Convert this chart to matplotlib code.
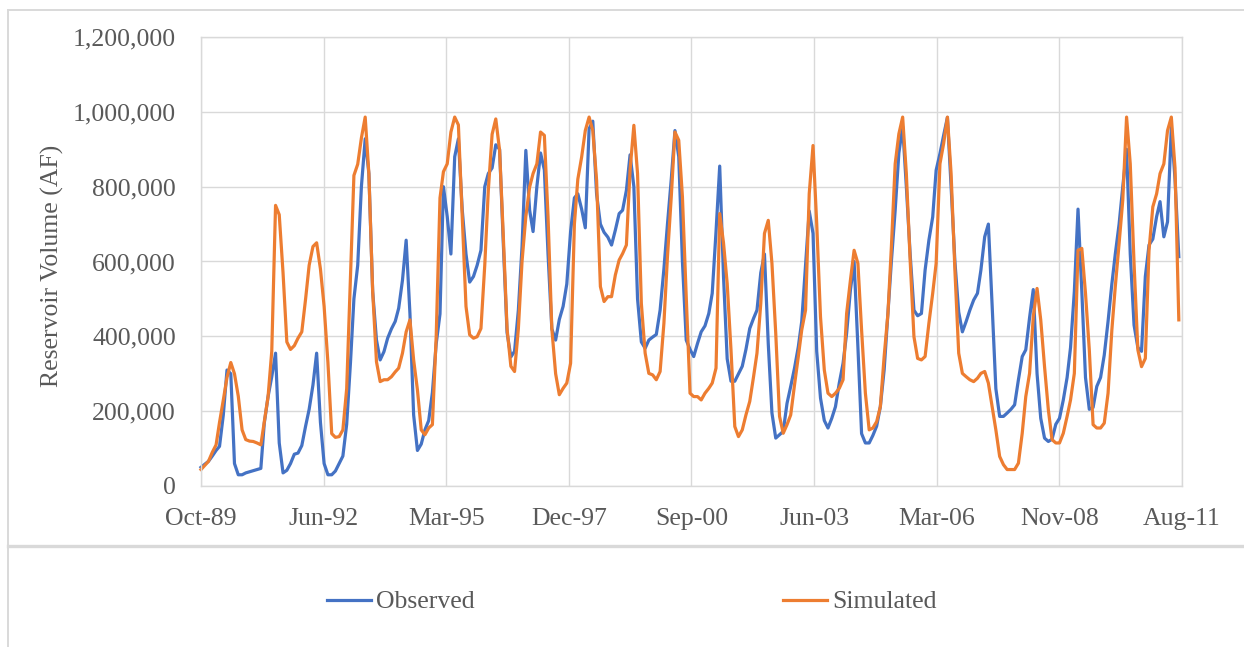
import matplotlib

matplotlib.use("Agg")

import matplotlib.dates as mdates
import matplotlib.pyplot as plt
import numpy as np
import pandas as pd
from matplotlib.lines import Line2D
from matplotlib.ticker import FuncFormatter

# monthly reservoir volume, thousand AF, Oct-1989 .. Aug-2011
observed_kaf = [
    50, 58, 66, 80, 95, 106, 190, 310, 300, 60,
    30, 30, 35, 38, 41, 44, 47, 168, 239, 292,
    355, 115, 35, 42, 60, 85, 88, 108, 160, 205,
    270, 355, 170, 60, 30, 30, 40, 60, 80, 165,
    330, 500, 590, 800, 928, 835, 520, 390, 337, 359,
    395, 420, 440, 475, 550, 657, 460, 190, 95, 112,
    150, 175, 250, 380, 460, 800, 720, 620, 880, 928,
    740, 620, 545, 560, 590, 630, 800, 835, 850, 912,
    900, 650, 410, 345, 360, 470, 640, 897, 737, 680,
    800, 890, 845, 620, 420, 390, 445, 480, 540, 680,
    770, 781, 740, 690, 955, 975, 780, 700, 678, 665,
    644, 684, 728, 737, 790, 885, 800, 500, 385, 368,
    390, 398, 405, 470, 580, 700, 820, 950, 880, 600,
    390, 365, 346, 381, 412, 428, 461, 515, 680, 855,
    560, 340, 280, 280, 300, 320, 365, 421, 448, 470,
    570, 620, 380, 195, 128, 137, 146, 221, 266, 315,
    372, 440, 590, 735, 675, 360, 235, 175, 155, 181,
    212, 275, 328, 408, 524, 600, 372, 140, 115, 115,
    135, 160, 212, 310, 461, 600, 737, 890, 960, 800,
    620, 470, 455, 461, 577, 657, 719, 844, 888, 937,
    985, 800, 600, 465, 412, 440, 470, 497, 515, 577,
    666, 700, 480, 260, 186, 186, 195, 205, 217, 284,
    346, 364, 450, 525, 300, 181, 128, 119, 125, 165,
    181, 230, 290, 370, 520, 740, 520, 290, 205, 210,
    266, 290, 350, 440, 540, 620, 700, 800, 900, 620,
    430, 370, 360, 560, 644, 660, 720, 760, 666, 706,
    960, 820, 613,
]
simulated_kaf = [
    44, 55, 66, 90, 110, 170, 230, 290, 330, 300,
    240, 150, 124, 120, 119, 115, 110, 172, 239, 360,
    750, 725, 570, 385, 365, 375, 395, 412, 500, 590,
    640, 650, 580, 480, 330, 140, 130, 132, 150, 260,
    560, 830, 860, 930, 986, 835, 520, 332, 279, 284,
    284, 292, 305, 315, 355, 412, 444, 337, 257, 150,
    137, 155, 164, 400, 770, 840, 861, 946, 986, 965,
    719, 480, 404, 395, 399, 421, 590, 790, 940, 981,
    897, 670, 420, 320, 306, 420, 600, 720, 799, 835,
    861, 946, 937, 720, 420, 300, 244, 261, 275, 328,
    700, 820, 879, 950, 986, 950, 817, 533, 493, 506,
    506, 564, 604, 621, 644, 844, 964, 835, 488, 355,
    301, 297, 284, 306, 435, 613, 773, 946, 924, 773,
    506, 248, 239, 239, 230, 248, 261, 275, 315, 728,
    650, 541, 364, 159, 132, 150, 190, 226, 292, 355,
    488, 675, 710, 595, 408, 186, 141, 164, 190, 270,
    346, 417, 470, 781, 910, 702, 452, 310, 248, 239,
    248, 261, 284, 461, 550, 630, 595, 417, 248, 150,
    155, 172, 212, 346, 461, 639, 861, 941, 986, 835,
    604, 399, 341, 337, 346, 435, 515, 595, 861, 915,
    986, 835, 577, 355, 301, 292, 284, 279, 288, 301,
    306, 275, 212, 150, 79, 57, 44, 44, 44, 61,
    141, 239, 301, 452, 528, 444, 319, 204, 124, 115,
    115, 141, 186, 230, 301, 630, 635, 515, 364, 164,
    155, 155, 168, 248, 417, 533, 648, 764, 986, 861,
    595, 364, 319, 341, 630, 746, 781, 835, 861, 950,
    986, 850, 444,
]
series_labels = ["Observed", "Simulated"]
series_colors = ["#4472C4", "#ED7D31"]
y_ticks = [0, 200_000, 400_000, 600_000, 800_000, 1_000_000, 1_200_000]

start = pd.Timestamp("1989-10-01")
dates = pd.date_range(start, periods=len(observed_kaf), freq="MS")
observed = np.asarray(observed_kaf, dtype=float) * 1000
simulated = np.asarray(simulated_kaf, dtype=float) * 1000

plt.rcParams["font.family"] = ["Liberation Serif", "DejaVu Serif"]
text_color = "#595959"
grid_color = "#d9d9d9"

fig = plt.figure(figsize=(12.44, 6.47), dpi=100)
ax = fig.add_axes([201 / 1244, 1 - 486 / 647, 981 / 1244, 449 / 647])

for values, label, color in zip([observed, simulated], series_labels, series_colors):
    ax.plot(dates, values, color=color, linewidth=2.3, label=label,
            solid_joinstyle="round", clip_on=False)

# Excel-style date axis: major unit of 1000 days from the first month
x_end = start + pd.Timedelta(days=8000)
ax.set_xlim(start, x_end)
ax.set_xticks([start + pd.Timedelta(days=1000 * k) for k in range(9)])
ax.xaxis.set_major_formatter(mdates.DateFormatter("%b-%y"))
ax.set_ylim(0, 1_200_000)
ax.set_yticks(y_ticks)
ax.yaxis.set_major_formatter(FuncFormatter(lambda v, _: f"{v:,.0f}"))

ax.grid(True, color=grid_color, linewidth=1.0)
ax.set_axisbelow(True)
for side, spine in ax.spines.items():
    spine.set_color(grid_color)
    spine.set_linewidth(1.0)
ax.tick_params(axis="both", length=0, labelsize=18.5, labelcolor=text_color)
ax.tick_params(axis="x", pad=16)
ax.tick_params(axis="y", pad=18)

fig.text(52 / 1244, 1 - 266 / 647, "Reservoir Volume (AF)", rotation=90,
         ha="center", va="center", fontsize=18.5, color=text_color)

handles = [Line2D([0], [0], color=c, linewidth=2.3) for c in series_colors]
fig.legend(handles, series_labels, loc="center", ncol=2,
           bbox_to_anchor=(632 / 1244, 1 - 602 / 647), frameon=False,
           fontsize=18.5, labelcolor=text_color, handlelength=1.7,
           handletextpad=0.2, columnspacing=12.0, borderpad=0)

# chart frame pieces visible in the source screenshot
fig.add_artist(Line2D([8 / 1244, 1], [1 - 10 / 647] * 2, color=grid_color,
                      linewidth=1.4, transform=fig.transFigure))
fig.add_artist(Line2D([8 / 1244] * 2, [0, 1 - 10 / 647], color=grid_color,
                      linewidth=1.4, transform=fig.transFigure))
fig.add_artist(Line2D([8 / 1244, 1], [1 - 546 / 647] * 2, color=grid_color,
                      linewidth=2.4, transform=fig.transFigure))

fig.savefig("out.png", dpi=100)
